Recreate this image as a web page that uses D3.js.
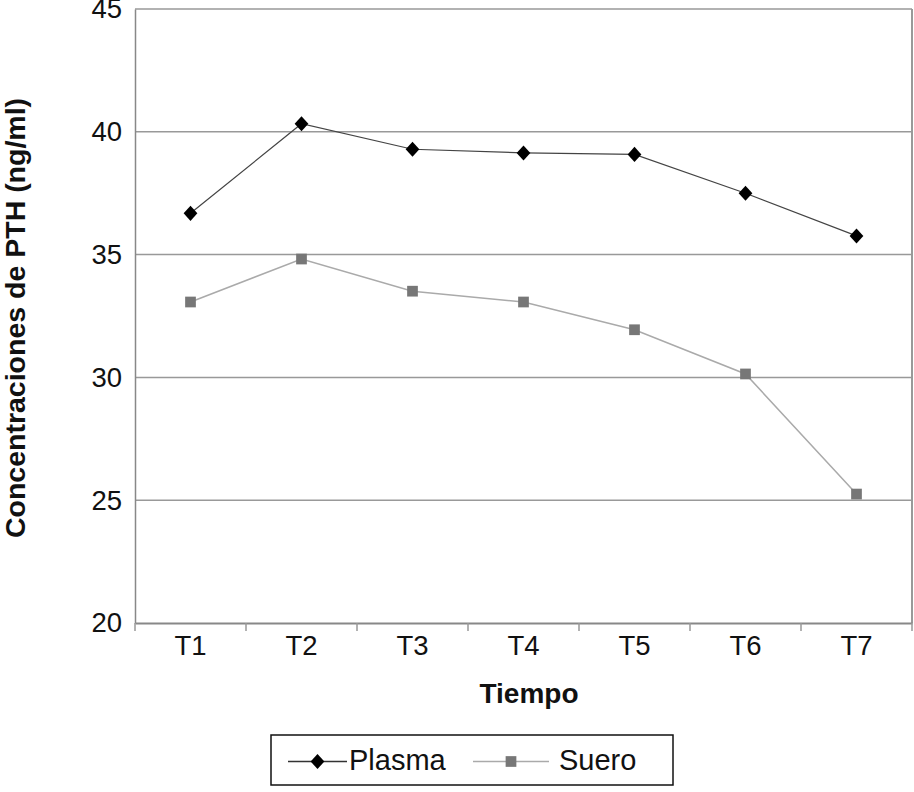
<!DOCTYPE html>
<html>
<head>
<meta charset="utf-8">
<script src="https://cdn.jsdelivr.net/npm/d3@7"></script>
<style>
  html, body { margin: 0; padding: 0; background: #fff; }
  svg { display: block; font-family: "Liberation Sans", Arial, sans-serif; }
</style>
</head>
<body>
<svg id="chart" width="914" height="792"></svg>
<script>
const categories = ["T1", "T2", "T3", "T4", "T5", "T6", "T7"];
const plasma = [36.68, 40.33, 39.29, 39.14, 39.08, 37.50, 35.76];
const suero  = [33.07, 34.82, 33.51, 33.07, 31.94, 30.14, 25.25];
const yTicks = [20, 25, 30, 35, 40, 45];
const seriesNames = ["Plasma", "Suero"];

const svg = d3.select("#chart");
const mLeft = 135, mRight = 912, mTop = 9, mBottom = 623;

const x = d3.scaleBand().domain(categories).range([mLeft, mRight]).padding(0);
const y = d3.scaleLinear().domain([20, 45]).range([mBottom, mTop]);

// gridlines
svg.append("g").selectAll("line").data(yTicks.filter(d => d > 20)).join("line")
  .attr("x1", mLeft).attr("x2", mRight)
  .attr("y1", d => y(d)).attr("y2", d => y(d))
  .attr("stroke", "#999").attr("stroke-width", 1.5);

// right border
svg.append("line").attr("x1", mRight).attr("x2", mRight).attr("y1", mTop).attr("y2", mBottom)
  .attr("stroke", "#999").attr("stroke-width", 2);

// y axis
const yAxis = svg.append("g").attr("transform", `translate(${mLeft},0)`)
  .call(d3.axisLeft(y).tickValues(yTicks).tickSize(0).tickPadding(13).tickFormat(d3.format("d")));
yAxis.select(".domain").attr("stroke", "#888").attr("stroke-width", 1.5);
yAxis.selectAll("text").attr("font-size", 27.5).attr("fill", "#111")
  .attr("font-family", "'Liberation Sans', Arial, sans-serif");

// x axis
const xAxis = svg.append("g").attr("transform", `translate(0,${mBottom})`)
  .call(d3.axisBottom(x).tickSize(0).tickPadding(12));
xAxis.select(".domain").attr("stroke", "#888").attr("stroke-width", 2);
xAxis.selectAll("text").attr("font-size", 27.5).attr("fill", "#111")
  .attr("font-family", "'Liberation Sans', Arial, sans-serif");
// tick marks at band boundaries
const bounds = categories.map(c => x(c)).concat([mRight]);
svg.append("g").selectAll("line").data(bounds).join("line")
  .attr("x1", d => d).attr("x2", d => d)
  .attr("y1", mBottom).attr("y2", mBottom + 8)
  .attr("stroke", "#999").attr("stroke-width", 1.5);

const cx = c => x(c) + x.bandwidth() / 2;

// lines
const line = d3.line().x((d, i) => cx(categories[i])).y(d => y(d));
svg.append("path").datum(suero).attr("d", line)
  .attr("fill", "none").attr("stroke", "#aaa").attr("stroke-width", 1.5);
svg.append("path").datum(plasma).attr("d", line)
  .attr("fill", "none").attr("stroke", "#444").attr("stroke-width", 1.2);

// markers
const diamond = d3.symbol().type(d3.symbolDiamond2).size(120);
const square = d3.symbol().type(d3.symbolSquare).size(115);
svg.append("g").selectAll("path").data(suero).join("path")
  .attr("d", square)
  .attr("transform", (d, i) => `translate(${cx(categories[i])},${y(d)})`)
  .attr("fill", "#777");
svg.append("g").selectAll("path").data(plasma).join("path")
  .attr("d", diamond)
  .attr("transform", (d, i) => `translate(${cx(categories[i])},${y(d)}) scale(1,1.1)`)
  .attr("fill", "#000");

// axis titles
svg.append("text").attr("x", 529).attr("y", 703).attr("text-anchor", "middle")
  .attr("font-size", 28).attr("font-weight", "bold").attr("fill", "#111").text("Tiempo");
svg.append("text").attr("transform", "translate(25,318) rotate(-90)")
  .attr("text-anchor", "middle").attr("font-size", 28.5).attr("font-weight", "bold")
  .attr("fill", "#111").text("Concentraciones de PTH (ng/ml)");

// legend
const lg = svg.append("g");
lg.append("rect").attr("x", 271).attr("y", 735).attr("width", 402).attr("height", 50)
  .attr("fill", "#fff").attr("stroke", "#111").attr("stroke-width", 1.5);
const legendItems = [
  {name: seriesNames[0], x1: 288, x2: 347, tx: 349, color: "#333", sym: diamond, fill: "#000", sc: "scale(1,1.1)"},
  {name: seriesNames[1], x1: 473, x2: 549, tx: 559, color: "#aaa", sym: square, fill: "#777", sc: ""}
];
legendItems.forEach(it => {
  lg.append("line").attr("x1", it.x1).attr("x2", it.x2).attr("y1", 761.5).attr("y2", 761.5)
    .attr("stroke", it.color).attr("stroke-width", 1.5);
  lg.append("path").attr("d", it.sym)
    .attr("transform", `translate(${(it.x1 + it.x2) / 2},761.5) ${it.sc}`).attr("fill", it.fill);
  lg.append("text").attr("x", it.tx).attr("y", 770)
    .attr("font-size", 29).attr("fill", "#111").text(it.name);
});
</script>
</body>
</html>
